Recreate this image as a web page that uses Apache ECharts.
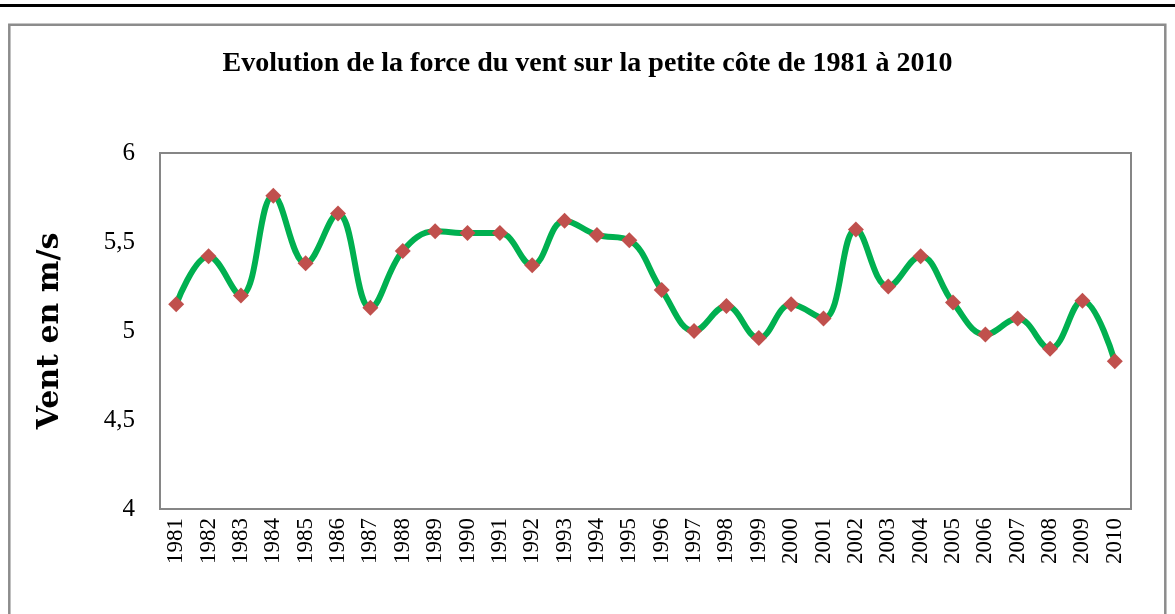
<!DOCTYPE html>
<html>
<head>
<meta charset="utf-8">
<script src="https://cdn.jsdelivr.net/npm/echarts@6/dist/echarts.min.js"></script>
<style>
  html, body { margin: 0; padding: 0; background: #fff; }
  #chart { width: 1175px; height: 614px; }
</style>
</head>
<body>
<div id="chart"></div>
<script>
// données
var years = ["1981", "1982", "1983", "1984", "1985", "1986", "1987", "1988", "1989", "1990",
    "1991", "1992", "1993", "1994", "1995", "1996", "1997", "1998", "1999", "2000",
    "2001", "2002", "2003", "2004", "2005", "2006", "2007", "2008", "2009", "2010"];
var vent = [5.15, 5.42, 5.2, 5.76, 5.38, 5.66, 5.13, 5.45, 5.56, 5.55,
    5.55, 5.37, 5.62, 5.54, 5.51, 5.23, 5.0, 5.14, 4.96, 5.15,
    5.07, 5.57, 5.25, 5.42, 5.16, 4.98, 5.07, 4.9, 5.17, 4.83];
var yTicks = [4, 4.5, 5, 5.5, 6];

var myChart = echarts.init(document.getElementById("chart"));
var option = {
    animation: false,
    title: {
        text: "Evolution de la force du vent sur la petite côte de 1981 à 2010",
        left: "center",
        top: 45,
        textStyle: {
            fontFamily: "Liberation Serif",
            fontWeight: "bold",
            fontSize: 28,
            color: "#000"
        }
    },
    graphic: [
        {
            type: "line",
            shape: { x1: 0, y1: 5.5, x2: 1175, y2: 5.5 },
            style: { stroke: "#000", lineWidth: 3 }
        },
        {
            type: "rect",
            shape: { x: 9.3, y: 24.7, width: 1156, height: 620 },
            style: { fill: "none", stroke: "#8c8c8c", lineWidth: 2.5 }
        }
    ],
    grid: {
        left: 160,
        right: 44,
        top: 153,
        bottom: 105,
        show: true,
        borderColor: "#868686",
        borderWidth: 2
    },
    xAxis: {
        type: "category",
        data: years,
        boundaryGap: true,
        axisLine: { show: false },
        axisTick: { show: false },
        axisLabel: {
            rotate: 90,
            interval: 0,
            margin: 9,
            fontFamily: "Liberation Serif",
            fontSize: 23,
            color: "#000"
        }
    },
    yAxis: {
        type: "value",
        min: yTicks[0],
        max: yTicks[yTicks.length - 1],
        interval: 0.5,
        name: "Vent en m/s",
        nameLocation: "middle",
        nameGap: 95,
        nameTextStyle: {
            fontFamily: "DejaVu Serif",
            fontWeight: "bold",
            fontSize: 30,
            color: "#000"
        },
        axisLine: { show: false },
        axisTick: { show: false },
        splitLine: { show: false },
        axisLabel: {
            margin: 25,
            fontFamily: "Liberation Serif",
            fontSize: 25,
            color: "#000",
            formatter: function (v) {
                return String(v).replace(".", ",");
            }
        }
    },
    series: [
        {
            type: "line",
            data: vent,
            smooth: 0.4,
            symbol: "diamond",
            symbolSize: 16,
            lineStyle: { color: "#00B050", width: 6 },
            itemStyle: { color: "#C0504D" }
        }
    ]
};
myChart.setOption(option);
</script>
</body>
</html>
